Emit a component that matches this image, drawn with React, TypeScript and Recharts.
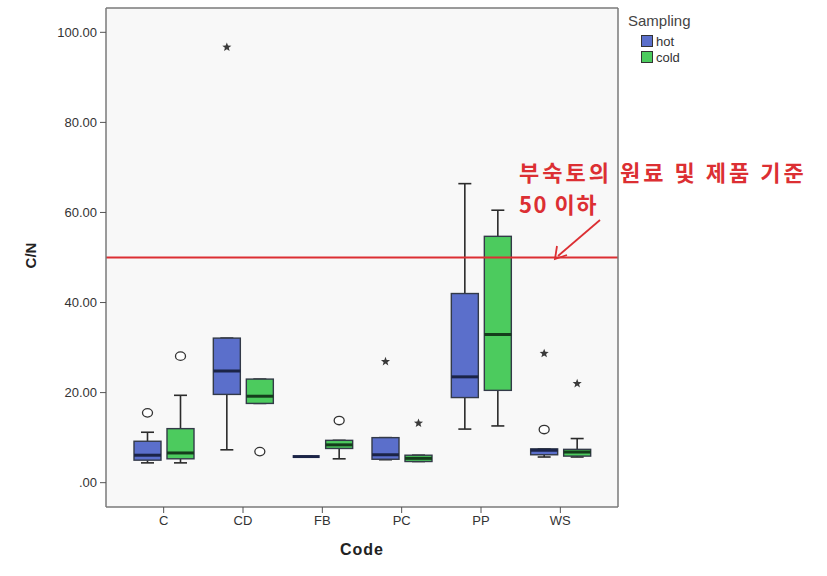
import React from 'react'
import { ComposedChart, Bar, XAxis, YAxis, CartesianGrid, ReferenceLine, Legend } from 'recharts'

const codes = ['C', 'CD', 'FB', 'PC', 'PP', 'WS']

// hot sampling
const hotLow = [4.4, 7.3, 5.8, 5.1, 11.9, 5.7]
const hotQ1 = [5.0, 19.6, 5.8, 5.2, 18.9, 6.2]
const hotMedian = [6.1, 24.8, 5.8, 6.2, 23.5, 7.2]
const hotQ3 = [9.2, 32.1, 5.8, 10.0, 42.0, 7.5]
const hotHigh = [11.2, 32.1, 5.8, 10.0, 66.4, 7.5]
const hotCircles = [[15.5], [], [], [], [], [11.8]]
const hotStars = [[], [96.7], [], [26.9], [], [28.7]]

// cold sampling
const coldLow = [4.4, 17.6, 5.3, 4.7, 12.6, 5.7]
const coldQ1 = [5.3, 17.6, 7.6, 4.7, 20.5, 5.9]
const coldMedian = [6.6, 19.2, 8.4, 5.4, 32.9, 6.8]
const coldQ3 = [12.0, 23.0, 9.4, 6.1, 54.7, 7.4]
const coldHigh = [19.4, 23.0, 9.4, 6.1, 60.5, 9.8]
const coldCircles = [[28.1], [6.9], [13.8], [], [], []]
const coldStars = [[], [], [], [13.2], [], [22.0]]

const yTicks = [0, 20, 40, 60, 80, 100]
const limit = 50

const HOT = '#5b6fcb'
const COLD = '#4ccb5e'
const FRAME = '#7a7a7a'
const RED = '#dc2f33'

function stats(lo: number[], q1: number[], med: number[], q3: number[], hi: number[], circ: number[][], star: number[][], i: number) {
  const all = [lo[i], hi[i], ...circ[i], ...star[i]]
  return {
    lo: lo[i], q1: q1[i], med: med[i], q3: q3[i], hi: hi[i], circles: circ[i], stars: star[i],
    range: [Math.min(...all), Math.max(...all)] as [number, number],
  }
}

const rows = codes.map((code, i) => {
  const hot = stats(hotLow, hotQ1, hotMedian, hotQ3, hotHigh, hotCircles, hotStars, i)
  const cold = stats(coldLow, coldQ1, coldMedian, coldQ3, coldHigh, coldCircles, coldStars, i)
  return { code, hot, cold, hotRange: hot.range, coldRange: cold.range }
})

function starPath(cx: number, cy: number, r: number) {
  const pts: string[] = []
  for (let k = 0; k < 10; k++) {
    const a = -Math.PI / 2 + (k * Math.PI) / 5
    const rr = k % 2 === 0 ? r : r * 0.42
    pts.push(`${cx + rr * Math.cos(a)},${cy + rr * Math.sin(a)}`)
  }
  return pts.join(' ')
}

function BoxShape(props: any) {
  const { x, y, width, height, s, fill, medColor } = props
  const [a, b] = s.range
  // map a value to a pixel using the bar geometry the library gave us
  const py = (v: number) => (b === a ? y : y + (height * (b - v)) / (b - a))
  const cx = x + width / 2
  const cap = 13
  return (
    <g>
      <line x1={cx} x2={cx} y1={py(s.hi)} y2={py(s.q3)} stroke="#2b2b2b" strokeWidth={1.6} />
      <line x1={cx} x2={cx} y1={py(s.q1)} y2={py(s.lo)} stroke="#2b2b2b" strokeWidth={1.6} />
      <line x1={cx - cap / 2} x2={cx + cap / 2} y1={py(s.hi)} y2={py(s.hi)} stroke="#2b2b2b" strokeWidth={1.6} />
      <line x1={cx - cap / 2} x2={cx + cap / 2} y1={py(s.lo)} y2={py(s.lo)} stroke="#2b2b2b" strokeWidth={1.6} />
      <rect x={x} y={py(s.q3)} width={width} height={Math.max(py(s.q1) - py(s.q3), 0)} fill={fill} stroke="#333a48" strokeWidth={1.4} />
      <line x1={x} x2={x + width} y1={py(s.med)} y2={py(s.med)} stroke={medColor} strokeWidth={3} />
      {s.circles.map((v: number, k: number) => (
        <ellipse key={'c' + k} cx={cx} cy={py(v)} rx={5} ry={4.2} fill="#fff" stroke="#333" strokeWidth={1.3} />
      ))}
      {s.stars.map((v: number, k: number) => (
        <polygon key={'s' + k} points={starPath(cx, py(v), 4.8)} fill="#3a3a3a" />
      ))}
    </g>
  )
}

function SamplingLegend() {
  return (
    <div style={{ fontFamily: 'Liberation Sans, Arial, sans-serif', color: '#444' }}>
      <div style={{ fontSize: 15, marginBottom: 4 }}>Sampling</div>
      {[['hot', HOT], ['cold', COLD]].map(([name, c]) => (
        <div key={name} style={{ display: 'flex', alignItems: 'center', marginLeft: 13, height: 16, fontSize: 13, color: '#333' }}>
          <span style={{ display: 'inline-block', width: 10, height: 10, background: c, border: '1px solid #333', marginRight: 3 }} />
          {name}
        </div>
      ))}
    </div>
  )
}

const tickFont = { fontSize: 13, fill: '#333', fontFamily: 'Liberation Sans, Arial, sans-serif' }

export default function App() {
  return (
    <div style={{ position: 'absolute', left: 0, top: 0, width: 827, height: 576, background: '#fff' }}>
      <ComposedChart width={827} height={576} data={rows} margin={{ top: 7, right: 208, bottom: 29, left: 6 }} barSize={27} barGap={6}>
        <CartesianGrid fill="#f8f8f8" horizontal={false} vertical={false} />
        <XAxis
          dataKey="code"
          padding={{ left: 18, right: 18 }}
          height={40}
          tickSize={6}
          tickMargin={3}
          tick={tickFont}
          tickLine={{ stroke: '#555' }}
          axisLine={{ stroke: FRAME, strokeWidth: 1.5 }}
          label={{
            content: ({ viewBox }: any) => (
              <text x={viewBox.x + viewBox.width / 2} y={viewBox.y + 48} textAnchor="middle" fontSize={16} fontWeight="bold" fill="#222" fontFamily="Liberation Sans, Arial, sans-serif" letterSpacing={1}>
                Code
              </text>
            ),
          }}
        />
        <XAxis xAxisId="top" dataKey="code" orientation="top" height={1} tick={false} tickLine={false} axisLine={{ stroke: FRAME, strokeWidth: 1.5 }} />
        <YAxis
          type="number"
          domain={[-5.4, 105.4]}
          ticks={yTicks}
          width={100}
          tickSize={6}
          tickMargin={3}
          tick={tickFont}
          tickLine={{ stroke: '#555' }}
          axisLine={{ stroke: FRAME, strokeWidth: 1.5 }}
          tickFormatter={(v: number) => (v === 0 ? '.00' : v.toFixed(2))}
          label={{
            content: ({ viewBox }: any) => {
              const cx = viewBox.x + 24
              const cy = viewBox.y + viewBox.height / 2 - 2
              return (
                <text x={cx} y={cy} transform={`rotate(-90 ${cx} ${cy})`} textAnchor="middle" dominantBaseline="central" fontSize={15} fontWeight="bold" fill="#222" fontFamily="Liberation Sans, Arial, sans-serif">
                  C/N
                </text>
              )
            },
          }}
        />
        <YAxis yAxisId="r" orientation="right" type="number" domain={[-5.4, 105.4]} width={1} tick={false} tickLine={false} axisLine={{ stroke: FRAME, strokeWidth: 1.5 }} />
        <ReferenceLine y={limit} stroke={RED} strokeWidth={2} />
        <Bar dataKey="hotRange" name="hot" fill={HOT} isAnimationActive={false}
          shape={(p: any) => <BoxShape {...p} s={p.payload.hot} fill={HOT} medColor="#1b2447" />} />
        <Bar dataKey="coldRange" name="cold" fill={COLD} isAnimationActive={false}
          shape={(p: any) => <BoxShape {...p} s={p.payload.cold} fill={COLD} medColor="#153d1c" />} />
        <Legend layout="vertical" align="center" verticalAlign="middle" content={<SamplingLegend />} wrapperStyle={{ left: 628, top: 12, width: 120 }} />
      </ComposedChart>
      <div style={{ position: 'absolute', left: 519, top: 155, color: RED, fontSize: 22, letterSpacing: 3, fontWeight: 'bold', fontFamily: '"Noto Sans CJK KR", sans-serif', lineHeight: '32px', whiteSpace: 'nowrap' }}>
        <div>부숙토의 원료 및 제품 기준</div>
        <div style={{ letterSpacing: 1.5 }}>50 이하</div>
      </div>
      <svg style={{ position: 'absolute', left: 0, top: 0, pointerEvents: 'none' }} width={827} height={576}>
        <line x1={600} y1={220} x2={558} y2={256} stroke={RED} strokeWidth={1.8} />
        <polyline points="557,246 555,259 567,255" fill="none" stroke={RED} strokeWidth={1.8} />
      </svg>
    </div>
  )
}
